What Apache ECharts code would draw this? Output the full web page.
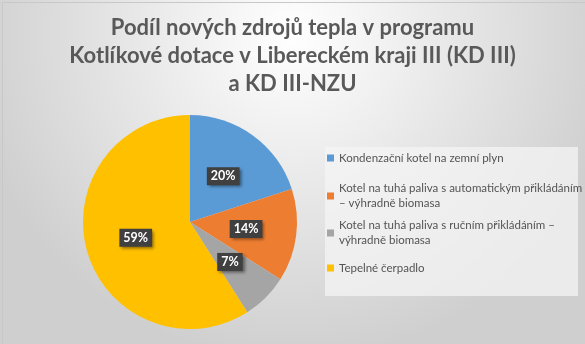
<!DOCTYPE html>
<html>
<head>
<meta charset="utf-8">
<style>
  html, body { margin: 0; padding: 0; }
  #chart { width: 585px; height: 344px; }
</style>
<script src="https://cdn.jsdelivr.net/npm/echarts@6/dist/echarts.min.js"></script>
</head>
<body>
<div id="chart"></div>
<script>
// Share of new heat sources (percent)
const categories = [
  'Kondenzační kotel na zemní plyn',
  'Kotel na tuhá paliva s automatickým přikládáním – výhradně biomasa',
  'Kotel na tuhá paliva s ručním přikládáním – výhradně biomasa',
  'Tepelné čerpadlo'
];
const shares = [20, 14, 7, 59];
const colors = ['#5B9BD5', '#ED7D31', '#A5A5A5', '#FFC000'];
// Legend text as it wraps in the legend box
const legendLines = [
  ['Kondenzační kotel na zemní plyn'],
  ['Kotel na tuhá paliva s automatickým přikládáním', '– výhradně biomasa'],
  ['Kotel na tuhá paliva s ručním přikládáním –', 'výhradně biomasa'],
  ['Tepelné čerpadlo']
];
const titleText = 'Podíl nových zdrojů tepla v programu\nKotlíkové dotace v Libereckém kraji III (KD III)\na KD III-NZU';

const FONT = 'Lato, "Open Sans", sans-serif';
const legendTops = [150.5, 173.5, 210.5, 260.5];

const legends = categories.map((name, i) => {
  const lines = legendLines[i];
  return {
    data: [name],
    orient: 'vertical',
    left: 327,
    top: legendTops[i],
    padding: 0,
    icon: 'rect',
    itemWidth: 7,
    itemHeight: 7,
    selectedMode: false,
    formatter: () => lines.join('\n'),
    textStyle: {
      fontFamily: FONT,
      fontSize: 11.5,
      color: '#545454',
      lineHeight: 15,
      padding: lines.length > 1 ? [15, 0, 0, 0] : 0
    }
  };
});

const chart = echarts.init(document.getElementById('chart'), null, { renderer: 'canvas' });
chart.setOption({
  backgroundColor: {
    type: 'radial', x: 0.5, y: 0.1, r: 0.95,
    colorStops: [
      { offset: 0, color: '#ffffff' },
      { offset: 1, color: '#cfcfcf' }
    ]
  },
  color: colors,
  animation: false,
  title: {
    text: titleText,
    left: 'center',
    top: 9,
    textStyle: {
      fontFamily: FONT,
      fontWeight: 'bold',
      fontSize: 22,
      lineHeight: 28,
      color: '#595959'
    }
  },
  graphic: [
    {
      type: 'rect',
      left: 0, top: 0, z: -1,
      shape: { width: 584, height: 343 },
      style: { fill: 'none', stroke: '#c8c8c8', lineWidth: 1 }
    },
    {
      type: 'rect',
      left: 325, top: 147, z: -1,
      shape: { width: 253, height: 149 },
      style: { fill: 'rgba(244,244,244,0.75)' }
    }
  ],
  legend: legends,
  series: [{
    type: 'pie',
    center: [190, 222],
    radius: 107,
    startAngle: 90,
    clockwise: true,
    silent: true,
    label: {
      show: true,
      position: 'inside',
      formatter: p => p.value + '%',
      color: '#ffffff',
      fontFamily: FONT,
      fontWeight: 'bold',
      fontSize: 12.5,
      backgroundColor: '#404040',
      padding: [3, 4, 2, 4],
      shadowColor: 'rgba(0,0,0,0.45)',
      shadowBlur: 3,
      shadowOffsetX: 2,
      shadowOffsetY: 2
    },
    labelLine: { show: false },
    itemStyle: { borderWidth: 0 },
    data: categories.map((name, i) => ({ name, value: shares[i] }))
  }]
});
</script>
</body>
</html>
